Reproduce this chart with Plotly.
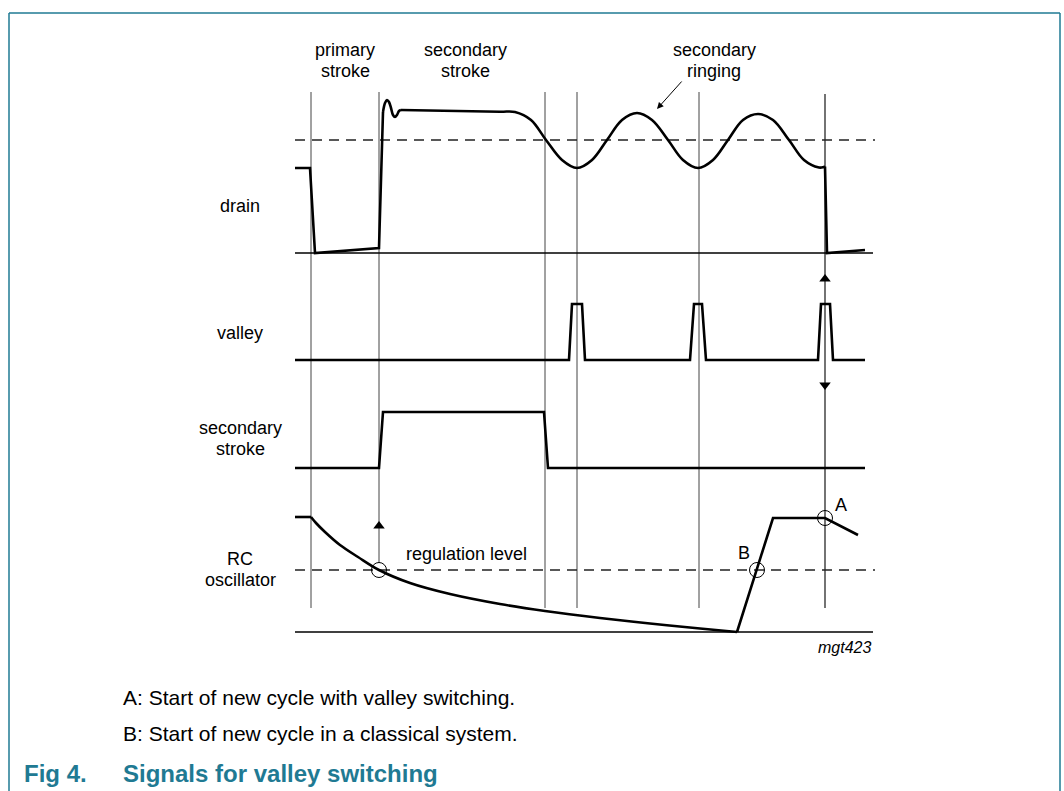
import plotly.graph_objects as go

# ---------------- data (time axis t, signal level v; diagram units) ----------------
# drain waveform pieces
drain_a_t = [295, 310, 315, 379, 383]
drain_a_v = [168, 168, 253, 248, 112]
drain_ov_t = [383, 385, 387, 389, 391, 393, 395, 397, 399, 401]
drain_ov_v = [112, 103, 100, 102, 108, 115, 117, 115, 111, 110]
drain_ring_t = [401, 500, 515, 531, 546, 562, 577, 592, 607, 622, 637, 652, 668, 683,
                698, 713, 728, 743, 758, 773, 789, 804, 819, 823, 825]
drain_ring_v = [110, 111.7, 112, 120, 140, 160, 168, 160, 140, 120, 113, 120, 140, 160,
                168, 160, 140, 120, 114, 120, 140, 160, 167.5, 167.3, 166.5]
drain_b_t = [825, 827, 865]
drain_b_v = [166.5, 253, 250]

valley_t = [295, 569, 572, 582, 585, 690, 694, 702, 706, 818, 821, 830, 833, 865]
valley_v = [360, 360, 304, 304, 360, 360, 304, 304, 360, 360, 304, 304, 360, 360]

sec_t = [295, 379, 383, 544, 548, 865]
sec_v = [468, 468, 412, 412, 468, 468]

rc_flat_t = [295, 311]
rc_flat_v = [517, 517]
rc_curve_t = [311, 316, 325, 340, 358, 379, 410, 450, 500, 545, 600, 650, 700, 737]
rc_curve_v = [517, 523, 532, 545, 557, 570, 583, 594, 604, 611, 618, 623.5, 628.5, 632]
rc_rise_t = [737, 773, 825, 858]
rc_rise_v = [632, 518, 518, 535]

drain_base_y = 253
rc_base_y = 632
drain_thresh_y = 140
regulation_y = 570
axis_start, axis_end, dash_end = 295, 873, 875

guide_t = [311, 379, 545, 577, 699]
guide_top = [92, 92, 92, 92, 92]
guide_bottom = [608, 563, 608, 608, 608]
event_t, event_top, event_bottom = 825, 94, 608

circle_t = [379, 757, 825]
circle_v = [570, 570, 518]

arrow_up_t = [825, 379]
arrow_up_v = [279, 526]
arrow_dn_t = [825]
arrow_dn_v = [385]

signal_labels = [("drain", 206), ("valley", 333), ("secondary", 428), ("stroke", 449),
                 ("RC", 559), ("oscillator", 580)]
phase_labels = [("primary", 345, 50), ("stroke", 345, 71),
                ("secondary", 465, 50), ("stroke", 465, 71),
                ("secondary", 714, 50), ("ringing", 714, 71)]

BORDER = "#1f7a93"
FONT = "Liberation Sans, Arial, sans-serif"

fig = go.Figure()

def line(t, v, width=2.6, color="black", shape="linear", dash=None):
    fig.add_trace(go.Scatter(x=t, y=v, mode="lines",
                             line=dict(color=color, width=width, shape=shape, dash=dash,
                                       smoothing=1.0 if shape == "spline" else None),
                             hoverinfo="skip", showlegend=False))

# guide lines
gx, gy = [], []
for t, a, b in zip(guide_t, guide_top, guide_bottom):
    gx += [t, t, None]
    gy += [a, b, None]
line(gx, gy, width=1, color="#444444")
line([event_t, event_t], [event_top, event_bottom], width=1.1, color="black")

# baselines and reference levels
line([axis_start, axis_end], [drain_base_y, drain_base_y], width=1.3)
line([axis_start, axis_end], [rc_base_y, rc_base_y], width=1.3)
line([axis_start, dash_end], [drain_thresh_y, drain_thresh_y], width=1.4, color="#222222", dash="10px,7px")
line([axis_start, dash_end], [regulation_y, regulation_y], width=1.4, color="#222222", dash="10px,7px")

# signals
line(drain_a_t, drain_a_v)
line(drain_ov_t, drain_ov_v, shape="spline")
line(drain_ring_t, drain_ring_v, shape="spline")
line(drain_b_t, drain_b_v)
line(valley_t, valley_v)
line(sec_t, sec_v)
line(rc_flat_t, rc_flat_v)
line(rc_curve_t, rc_curve_v, shape="spline")
line(rc_rise_t, rc_rise_v)

# circles and arrowheads
fig.add_trace(go.Scatter(x=circle_t, y=circle_v, mode="markers",
                         marker=dict(symbol="circle-open", size=15, color="black", line=dict(width=1)),
                         hoverinfo="skip", showlegend=False))
fig.add_trace(go.Scatter(x=arrow_up_t, y=arrow_up_v, mode="markers",
                         marker=dict(symbol="triangle-up", size=10, color="black"),
                         hoverinfo="skip", showlegend=False))
fig.add_trace(go.Scatter(x=arrow_dn_t, y=arrow_dn_v, mode="markers",
                         marker=dict(symbol="triangle-down", size=10, color="black"),
                         hoverinfo="skip", showlegend=False))

annotations = []
for txt, y in signal_labels:
    annotations.append(dict(x=240, y=y, text=txt, showarrow=False, xanchor="center", yanchor="middle",
                            font=dict(size=18, color="black", family=FONT)))
for txt, x, y in phase_labels:
    annotations.append(dict(x=x, y=y, text=txt, showarrow=False, xanchor="center", yanchor="middle",
                            font=dict(size=18, color="black", family=FONT)))
annotations += [
    dict(x=657, y=109, ax=683, ay=80, axref="x", ayref="y", text="", showarrow=True,
         arrowhead=2, arrowsize=1.3, arrowwidth=1, arrowcolor="black"),
    dict(x=466, y=554, text="regulation level", showarrow=False, xanchor="center", yanchor="middle",
         font=dict(size=18, color="black", family=FONT)),
    dict(x=744, y=553, text="B", showarrow=False, xanchor="center", yanchor="middle",
         font=dict(size=18, color="black", family=FONT)),
    dict(x=841, y=505, text="A", showarrow=False, xanchor="center", yanchor="middle",
         font=dict(size=18, color="black", family=FONT)),
    dict(x=873, y=647, text="<i>mgt423</i>", showarrow=False, xanchor="right", yanchor="middle",
         font=dict(size=16, color="black", family=FONT)),
    dict(x=121, y=697, text="A: Start of new cycle with valley switching.", showarrow=False,
         xanchor="left", yanchor="middle", font=dict(size=21, color="black", family=FONT)),
    dict(x=121, y=733, text="B: Start of new cycle in a classical system.", showarrow=False,
         xanchor="left", yanchor="middle", font=dict(size=21, color="black", family=FONT)),
    dict(x=22, y=773, text="<b>Fig 4.</b>", showarrow=False, xanchor="left", yanchor="middle",
         font=dict(size=24, color=BORDER, family=FONT)),
    dict(x=121, y=773, text="<b>Signals for valley switching</b>", showarrow=False, xanchor="left",
         yanchor="middle", font=dict(size=24, color=BORDER, family=FONT)),
]

shapes = [
    dict(type="line", x0=9, x1=1060, y0=13, y1=13, line=dict(color=BORDER, width=1.5), xref="x", yref="y"),
    dict(type="line", x0=9, x1=9, y0=13, y1=791, line=dict(color=BORDER, width=1.5), xref="x", yref="y"),
    dict(type="line", x0=1060, x1=1060, y0=13, y1=791, line=dict(color=BORDER, width=1.5), xref="x", yref="y"),
]

fig.update_layout(
    width=1064, height=791, margin=dict(l=0, r=0, t=0, b=0),
    paper_bgcolor="white", plot_bgcolor="white",
    xaxis=dict(range=[0, 1064], visible=False, fixedrange=True),
    yaxis=dict(range=[791, 0], visible=False, fixedrange=True),
    annotations=annotations, shapes=shapes,
)

fig.write_html("out.html", config={"displayModeBar": False},
               post_script="document.body.style.margin='0px';document.body.style.overflow='hidden';")
